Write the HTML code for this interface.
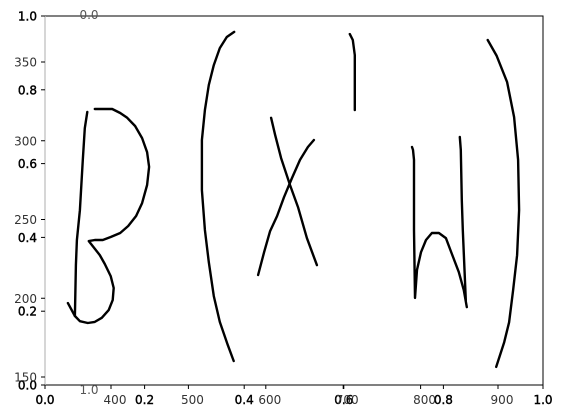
<!DOCTYPE html>
<html><head><meta charset="utf-8"><style>
body{margin:0;background:#fff}
svg{display:block;font-family:"DejaVu Sans","Liberation Sans",sans-serif}
</style></head><body>
<svg id="chart" width="563" height="418" viewBox="0 0 563 418">
<g id="axes"></g>
<g id="strokes"></g>
</svg>
<script>
// tick labels
const xTicks = [0, 0.2, 0.4, 0.6, 0.8, 1.0];
const yTicks = [0, 0.2, 0.4, 0.6, 0.8, 1.0];
const y2Ticks = [150, 200, 250, 300, 350];
const x2Ticks = [400, 500, 600, 700, 800, 900];
// stroke data in axis units (x 0..1, y 0..1)
const strokeBetaStemX = [0.085,0.080,0.076,0.070,0.064,0.062,0.060];
const strokeBetaStemY = [0.740,0.696,0.610,0.474,0.393,0.325,0.187];
const strokeBetaX = [0.046,0.060,0.070,0.086,0.100,0.114,0.128,0.136,0.138,0.132,0.120,0.110,0.100,0.088,0.100,0.116,0.132,0.151,0.167,0.183,0.195,0.205,0.209,0.205,0.195,0.181,0.165,0.151,0.135,0.100];
const strokeBetaY = [0.222,0.187,0.173,0.168,0.171,0.182,0.203,0.230,0.263,0.295,0.328,0.352,0.369,0.390,0.393,0.393,0.401,0.412,0.431,0.458,0.493,0.542,0.591,0.631,0.669,0.702,0.724,0.737,0.748,0.748];
const strokeLParenX = [0.380,0.365,0.351,0.339,0.329,0.321,0.315,0.315,0.321,0.329,0.339,0.351,0.367,0.379];
const strokeLParenY = [0.957,0.943,0.913,0.867,0.813,0.745,0.664,0.528,0.420,0.333,0.241,0.171,0.108,0.065];
const strokeX1X = [0.454,0.462,0.474,0.492,0.508,0.526,0.546];
const strokeX1Y = [0.724,0.678,0.615,0.542,0.482,0.398,0.325];
const strokeX2X = [0.428,0.440,0.452,0.466,0.480,0.496,0.512,0.528,0.540];
const strokeX2Y = [0.298,0.360,0.417,0.458,0.509,0.561,0.610,0.645,0.664];
const strokeIX = [0.612,0.618,0.622,0.622];
const strokeIY = [0.951,0.935,0.894,0.745];
const strokeHLX = [0.737,0.739,0.741,0.741,0.743,0.747,0.755,0.765,0.777,0.791,0.805,0.817,0.831,0.841,0.847];
const strokeHLY = [0.645,0.637,0.610,0.420,0.236,0.312,0.360,0.393,0.412,0.412,0.398,0.355,0.306,0.257,0.211];
const strokeHRX = [0.833,0.835,0.837,0.839,0.845];
const strokeHRY = [0.672,0.637,0.501,0.420,0.230];
const strokeRParenX = [0.889,0.907,0.928,0.942,0.950,0.952,0.948,0.940,0.932,0.922,0.906];
const strokeRParenY = [0.935,0.892,0.821,0.726,0.610,0.474,0.352,0.257,0.170,0.116,0.049];

const NS="http://www.w3.org/2000/svg";
const L=45,R=543,T=16,B=385;
const sx=v=>L+v*(R-L);
const sy=v=>B-v*(B-T);
const y2=v=>377-(v-150)*(377-62)/200;
const x2=v=>115+(v-400)*(502-115)/500;
const axes=document.getElementById('axes');
function mk(tag,attrs,parent){const e=document.createElementNS(NS,tag);for(const k in attrs)e.setAttribute(k,attrs[k]);parent.appendChild(e);return e;}
const fr=mk('rect',{x:L,y:T,width:R-L,height:B-T,fill:'none',stroke:'#000','stroke-width':1},axes);


const lsp=mk('line',{x1:L,y1:T,x2:L,y2:B,stroke:'#bbb','stroke-width':1.2},axes);


xTicks.forEach(v=>{
  mk('line',{x1:sx(v),y1:B,x2:sx(v),y2:B+4,stroke:'#000'},axes);
  const t=mk('text',{x:sx(v),y:B+19,'text-anchor':'middle','font-size':12,fill:'#000',stroke:'#000','stroke-width':0.4},axes);
  t.textContent=v.toFixed(1);
  
  
});
x2Ticks.forEach(v=>{
  mk('line',{x1:x2(v)-4,y1:B,x2:x2(v)-4,y2:B+4,stroke:'#000'},axes);
  const t=mk('text',{x:x2(v),y:B+19,'text-anchor':'middle','font-size':12,fill:'#333'},axes);
  t.textContent=v;
  
  
});
yTicks.forEach(v=>{
  mk('line',{x1:L-4,y1:sy(v),x2:L,y2:sy(v),stroke:'#000'},axes);
  const t=mk('text',{x:L-8,y:sy(v)+4.5,'text-anchor':'end','font-size':12,fill:'#000',stroke:'#000','stroke-width':0.4},axes);
  t.textContent=v.toFixed(1);
  
  
});
y2Ticks.forEach(v=>{
  mk('line',{x1:L-4,y1:y2(v),x2:L,y2:y2(v),stroke:'#000'},axes);
  const t=mk('text',{x:L-8,y:y2(v)+4.5,'text-anchor':'end','font-size':12,fill:'#333'},axes);
  t.textContent=v;
  
  
});
const tt=mk('text',{x:89,y:T+3,'text-anchor':'middle','font-size':12,fill:'#555'},axes);
tt.textContent='0.0';


const bt=mk('text',{x:89,y:B+9,'text-anchor':'middle','font-size':12,fill:'#555'},axes);
bt.textContent='1.0';


const sg=document.getElementById('strokes');
const strokes=[[strokeBetaStemX,strokeBetaStemY,'beta-stem'],[strokeBetaX,strokeBetaY,'beta-curve'],[strokeLParenX,strokeLParenY,'left-paren'],[strokeX1X,strokeX1Y,'x-stroke-1'],[strokeX2X,strokeX2Y,'x-stroke-2'],[strokeIX,strokeIY,'i-stroke'],[strokeHLX,strokeHLY,'h-left-stroke'],[strokeHRX,strokeHRY,'h-right-stroke'],[strokeRParenX,strokeRParenY,'right-paren']];
strokes.forEach(s=>{
  const pts=s[0].map((x,i)=>sx(x).toFixed(1)+','+sy(s[1][i]).toFixed(1)).join(' ');
  const p=mk('polyline',{points:pts,fill:'none',stroke:'#000','stroke-width':2.4,'stroke-linejoin':'round','stroke-linecap':'round'},sg);
  
  
});
</script>
</body></html>
